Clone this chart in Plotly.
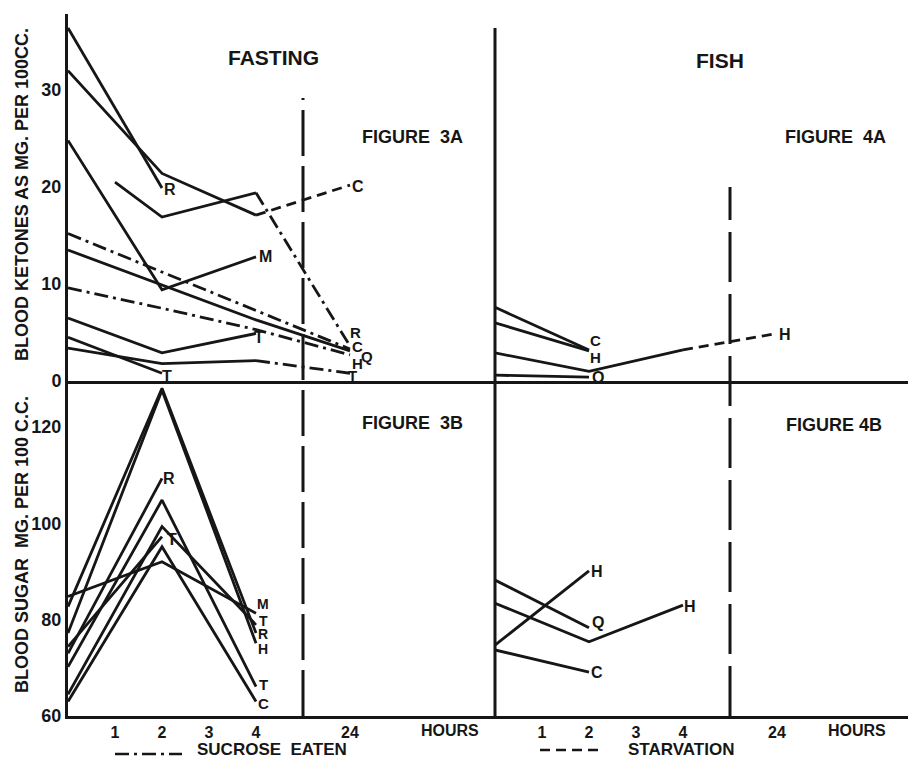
import plotly.graph_objects as go

INK = "#161616"
FONT = "Liberation Sans"

# ---------------- DATA ----------------
# x: hours after start; the 24-hour reading sits in the slot after the axis break
TICK_HOURS = [1, 2, 3, 4, 24]
TICK_TEXT = ["1", "2", "3", "4", "24"]

# Figure 3A - blood ketones, mg per 100 cc, fasting subjects
k3a_R1_h = [0, 2];         k3a_R1 = [36.4, 19.9]
k3a_C1_h = [0, 2, 4];      k3a_C1 = [32.0, 21.4, 17.1]
k3a_C1s_h = [4, 24];       k3a_C1s = [17.1, 20.2]          # starvation
k3a_R2_h = [1, 2, 4];      k3a_R2 = [20.5, 16.9, 19.4]
k3a_R2d_h = [4, 24];       k3a_R2d = [19.4, 3.6]           # sucrose eaten
k3a_M_h = [0, 2, 4];       k3a_M = [24.8, 9.4, 12.8]
k3a_Q_h = [0, 2, 4, 24];   k3a_Q = [13.5, 9.9, 6.3, 3.1]
k3a_C2_h = [0, 24];        k3a_C2 = [15.2, 3.3]            # sucrose eaten
k3a_H_h = [0, 2, 4, 24];   k3a_H = [9.6, 7.5, 5.3, 2.7]    # sucrose eaten
k3a_T1_h = [0, 2, 4];      k3a_T1 = [6.5, 2.9, 4.9]
k3a_T2_h = [0, 2];         k3a_T2 = [4.5, 0.8]
k3a_T3_h = [0, 2, 4];      k3a_T3 = [3.4, 1.8, 2.1]
k3a_T3d_h = [4, 24];       k3a_T3d = [2.1, 0.8]            # sucrose eaten

# Figure 4A - blood ketones, fish meal
k4a_C_h = [0, 2];          k4a_C = [7.6, 3.2]
k4a_H1_h = [0, 2];         k4a_H1 = [6.0, 3.1]
k4a_H2_h = [0, 2, 4];      k4a_H2 = [2.9, 1.0, 3.2]
k4a_H2s_h = [4, 24];       k4a_H2s = [3.2, 4.9]            # starvation
k4a_O_h = [0, 2];          k4a_O = [0.6, 0.4]

# Figure 3B - blood sugar, mg per 100 cc, fasting subjects
s3b_M_h = [0, 2, 4];       s3b_M = [84.8, 92.0, 81.3]
s3b_R1_h = [0, 2, 4];      s3b_R1 = [82.7, 128.0, 77.2]
s3b_H_h = [0, 2, 4];       s3b_H = [77.2, 127.6, 75.1]
s3b_R2_h = [0, 2];         s3b_R2 = [73.0, 109.3]
s3b_T1_h = [0, 2, 4];      s3b_T1 = [70.2, 104.8, 66.1]
s3b_T2_h = [0, 2, 4];      s3b_T2 = [64.5, 99.3, 78.9]
s3b_T3_h = [0, 2];         s3b_T3 = [74.4, 97.2]
s3b_C_h = [0, 2, 4];       s3b_C = [63.0, 95.1, 63.0]

# Figure 4B - blood sugar, fish meal
s4b_Q_h = [0, 2];          s4b_Q = [88.2, 78.3]
s4b_H1_h = [0, 2, 4];      s4b_H1 = [83.4, 75.4, 83.0]
s4b_H2_h = [0, 2];         s4b_H2 = [74.7, 90.1]
s4b_C_h = [0, 2];          s4b_C = [73.7, 69.1]

KET_TICKS = [0, 10, 20, 30]
SUG_TICKS = [60, 80, 100, 120]

# ---------------- STYLE ----------------
SOLID, STARV, SUCR = "solid", "10px,6px", "14px,5px,3px,5px"
LW = 2.8

# (hours, values, dash, label, label shift right px, label shift up px, label size)
panels = {
    ("x3", "y3"): [
        (k3a_R1_h, k3a_R1, SOLID, "R", 8, -2, 16),
        (k3a_C1_h, k3a_C1, SOLID, "", 0, 0, 16),
        (k3a_C1s_h, k3a_C1s, STARV, "C", 8, -1, 16),
        (k3a_R2_h, k3a_R2, SOLID, "", 0, 0, 16),
        (k3a_R2d_h, k3a_R2d, SUCR, "R", 5, 14, 15),
        (k3a_M_h, k3a_M, SOLID, "M", 9, 0, 16),
        (k3a_Q_h, k3a_Q, SOLID, "Q", 17, -6, 15),
        (k3a_C2_h, k3a_C2, SUCR, "C", 7, 2, 15),
        (k3a_H_h, k3a_H, SUCR, "H", 7, -9, 15),
        (k3a_T1_h, k3a_T1, SOLID, "T", 3, -4, 16),
        (k3a_T2_h, k3a_T2, SOLID, "T", 5, -3, 16),
        (k3a_T3_h, k3a_T3, SOLID, "", 0, 0, 16),
        (k3a_T3d_h, k3a_T3d, SUCR, "T", 2, -2, 15),
    ],
    ("x4", "y4"): [
        (k4a_C_h, k4a_C, SOLID, "C", 6, 9, 15),
        (k4a_H1_h, k4a_H1, SOLID, "H", 6, -7, 15),
        (k4a_H2_h, k4a_H2, SOLID, "", 0, 0, 16),
        (k4a_H2s_h, k4a_H2s, STARV, "H", 8, -1, 16),
        (k4a_O_h, k4a_O, SOLID, "O", 9, 0, 16),
    ],
    ("x", "y"): [
        (s3b_M_h, s3b_M, SOLID, "M", 7, 9, 14),
        (s3b_R1_h, s3b_R1, SOLID, "R", 7, -1, 14),
        (s3b_H_h, s3b_H, SOLID, "H", 7, -6, 14),
        (s3b_R2_h, s3b_R2, SOLID, "R", 7, 0, 16),
        (s3b_T1_h, s3b_T1, SOLID, "T", 7, 2, 15),
        (s3b_T2_h, s3b_T2, SOLID, "T", 7, 4, 14),
        (s3b_T3_h, s3b_T3, SOLID, "T", 10, -3, 16),
        (s3b_C_h, s3b_C, SOLID, "C", 7, -2, 15),
    ],
    ("x2", "y2"): [
        (s4b_Q_h, s4b_Q, SOLID, "Q", 9, 5, 16),
        (s4b_H1_h, s4b_H1, SOLID, "H", 7, -1, 16),
        (s4b_H2_h, s4b_H2, SOLID, "H", 8, -1, 16),
        (s4b_C_h, s4b_C, SOLID, "C", 8, 0, 16),
    ],
}


def slot(h):
    """Axis position of an hour reading (broken axis: 24 h drawn at slot 6)."""
    return 6 if h == 24 else h


fig = go.Figure()
annotations = []
for (xa, ya), series in panels.items():
    for hrs, vals, dash, lab, dx, dy, fs in series:
        xs = [slot(h) for h in hrs]
        fig.add_trace(go.Scatter(
            x=xs, y=vals, xaxis=xa, yaxis=ya, mode="lines",
            line=dict(color=INK, width=LW, dash=dash),
            hoverinfo="skip", showlegend=False))
        if lab:
            annotations.append(dict(
                x=xs[-1], y=vals[-1], xref=xa, yref=ya, text=lab,
                showarrow=False, xanchor="center", yanchor="middle",
                xshift=dx, yshift=dy, font=dict(size=fs, color=INK)))

# ---------------- LAYOUT ----------------
PAGE = 8                            # browser body margin
W, H = 916 - PAGE, 758 - PAGE
# plot area in page pixels: x 68..916, y 14..716
ML, MR, MT = 68 - PAGE, 0, 14 - PAGE
MB = H - (716 - PAGE)
PW, PH = W - ML - MR, H - MT - MB
PX_HR = 47.0                       # pixels per hour slot
XSPLIT = 427 / PW                  # left / right panel split
YSPLIT = (716 - 381) / PH          # sugar / ketone split
KET_PX = 9.7                       # pixels per mg ketone
SUG_PX = 4.82                      # pixels per mg sugar

xl_range = [0, XSPLIT * PW / PX_HR]
xr_range = [0, (1 - XSPLIT) * PW / PX_HR]
ket_range = [0, (1 - YSPLIT) * PH / KET_PX]
sug_range = [60, 60 + YSPLIT * PH / SUG_PX]

tickvals = [slot(h) for h in TICK_HOURS]
base = dict(showgrid=False, zeroline=False, ticks="", linecolor=INK, linewidth=3)
tf = dict(size=16, color=INK)

fig.update_layout(
    width=W, height=H, margin=dict(l=ML, r=MR, t=MT, b=MB),
    paper_bgcolor="white", plot_bgcolor="white", showlegend=False,
    font=dict(family=FONT, size=17, color=INK, weight="bold"),
    xaxis=dict(base, domain=[0, XSPLIT], range=xl_range, anchor="y",
               tickvals=tickvals, ticktext=TICK_TEXT, tickfont=tf, showline=True),
    yaxis=dict(base, domain=[0, YSPLIT], range=sug_range, anchor="x",
               tickvals=SUG_TICKS, tickfont=dict(size=18, color=INK), showline=True),
    xaxis2=dict(base, domain=[XSPLIT, 1], range=xr_range, anchor="y2",
                tickvals=tickvals, ticktext=TICK_TEXT, tickfont=tf, showline=True),
    yaxis2=dict(base, domain=[0, YSPLIT], range=sug_range, anchor="x2",
                showticklabels=False, showline=False),
    xaxis3=dict(base, domain=[0, XSPLIT], range=xl_range, anchor="y3",
                showticklabels=False, showline=True),
    yaxis3=dict(base, domain=[YSPLIT, 1], range=ket_range, anchor="x3",
                tickvals=KET_TICKS, tickfont=dict(size=18, color=INK), showline=True),
    xaxis4=dict(base, domain=[XSPLIT, 1], range=xr_range, anchor="y4",
                showticklabels=False, showline=True),
    yaxis4=dict(base, domain=[YSPLIT, 1], range=ket_range, anchor="x4",
                showticklabels=False, showline=False),
)


def px(xp):
    """page x pixel -> paper fraction"""
    return (xp - PAGE - ML) / PW


def py(yp):
    """page y pixel -> paper fraction"""
    return (H - MB - (yp - PAGE)) / PH


shapes = [
    # middle solid divider
    dict(type="line", xref="x2 domain", yref="paper", x0=0, x1=0, y0=0, y1=py(28),
         line=dict(color=INK, width=3)),
    # break lines (between 4 h and 24 h)
    dict(type="line", xref="x", yref="paper", x0=5, x1=5, y0=0, y1=py(98),
         line=dict(color=INK, width=3, dash="46px,10px")),
    dict(type="line", xref="x2", yref="paper", x0=5, x1=5, y0=0, y1=py(187),
         line=dict(color=INK, width=3, dash="50px,12px")),
    # legend samples
    dict(type="line", xref="paper", yref="paper", x0=px(115), x1=px(182),
         y0=py(754), y1=py(754), line=dict(color=INK, width=2.6, dash=SUCR)),
    dict(type="line", xref="paper", yref="paper", x0=px(540), x1=px(602),
         y0=py(750), y1=py(750), line=dict(color=INK, width=2.6, dash=STARV)),
]

texts = [
    ("FASTING", 273, 58, 21, 0),
    ("FISH", 720, 60, 21, 0),
    ("FIGURE  3A", 412, 137, 18, 0),
    ("FIGURE  4A", 835, 137, 18, 0),
    ("FIGURE  3B", 412, 423, 18, 0),
    ("FIGURE 4B", 834, 425, 18, 0),
    ("HOURS", 450, 730, 16, 0),
    ("HOURS", 857, 730, 16, 0),
    ("SUCROSE  EATEN", 272, 749, 17, 0),
    ("STARVATION", 681, 749, 17, 0),
    ("BLOOD KETONES AS MG. PER 100CC.", 22, 195, 18, -90),
    ("BLOOD SUGAR  MG. PER 100 C.C.", 22, 545, 18, -90),
]
for t, xp, yp, size, ang in texts:
    annotations.append(dict(
        text=t, x=px(xp), y=py(yp), xref="paper", yref="paper",
        showarrow=False, xanchor="center", yanchor="middle", textangle=ang,
        font=dict(size=size, color=INK)))

fig.update_layout(shapes=shapes, annotations=annotations)
fig.write_html("out.html")
